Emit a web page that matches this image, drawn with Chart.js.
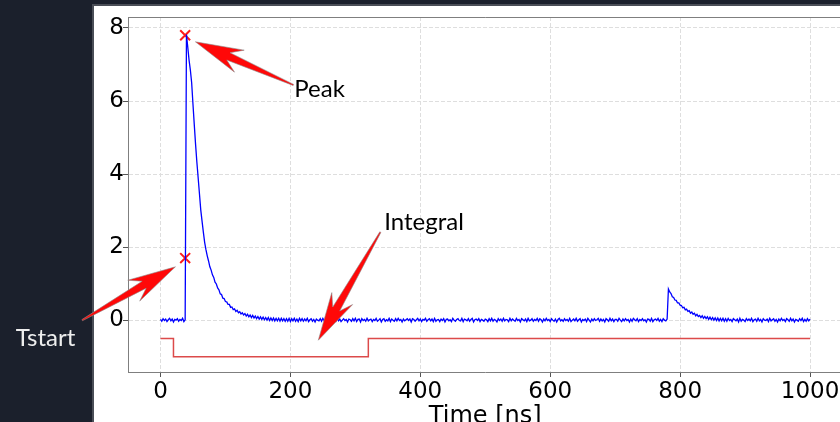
<!DOCTYPE html>
<html>
<head>
<meta charset="utf-8">
<script src="https://cdn.jsdelivr.net/npm/chart.js@4/dist/chart.umd.min.js"></script>
<style>
  html, body { margin: 0; padding: 0; background: #1b202c; overflow: hidden; }
  #wrap { position: absolute; left: 0; top: 0; width: 860px; height: 430px; }
</style>
</head>
<body>
<div id="wrap"><canvas id="waveform" width="860" height="430"></canvas></div>
<script>
// sampled waveform, one value every 2 ns
const sampleStep = 2;

// 0 .. 38 ns
const preTrigger = [0.02,-0.03,0.04,-0.01,0.03,-0.04,0.01,0.05,-0.02,0.03,-0.05,0.02,0.00,0.04,-0.03,0.02,-0.01,0.05,-0.04,0.01];

// 40 .. 220 ns
const mainPulse = [
  7.82,7.48,7.12,6.85,6.50,5.92,5.36,4.82,4.33,3.90,3.46,3.02,2.71,2.41,2.13,1.93,1.76,1.62,1.46,1.37,
  1.24,1.17,1.04,0.99,0.88,0.83,0.72,0.70,0.60,0.59,0.51,0.50,0.43,0.43,0.35,0.36,0.29,0.31,0.24,0.27,
  0.20,0.23,0.17,0.20,0.14,0.18,0.11,0.16,0.09,0.14,0.07,0.13,0.06,0.11,0.04,0.10,0.03,0.09,0.02,0.08,
  0.01,0.07,0.00,0.07,-0.01,0.06,-0.01,0.06,-0.02,0.05,-0.02,0.05,-0.03,0.05,-0.02,0.04,-0.03,0.04,-0.03,0.05,
  -0.04,0.04,-0.02,0.05,-0.03,0.03,-0.04,0.05,-0.02,0.04,-0.03
];

// 222 .. 780 ns
const baseline = [
  0.03,-0.02,0.05,-0.04,0.01,0.04,-0.03,0.02,-0.05,0.03,0.00,-0.02,0.04,-0.03,0.05,-0.01,0.02,-0.04,0.03,-0.02,
  0.04,-0.05,0.02,0.01,-0.03,0.05,-0.02,0.03,-0.04,0.00,0.04,-0.01,0.02,-0.05,0.03,0.01,-0.03,0.04,-0.02,0.05,
  -0.04,0.02,0.03,-0.05,0.04,-0.01,0.02,-0.03,0.05,-0.02,0.01,0.03,-0.04,0.02,-0.01,0.05,-0.03,0.00,0.04,-0.05,
  0.02,0.04,-0.03,0.01,-0.02,0.05,-0.04,0.03,0.00,-0.03,0.04,-0.02,0.05,-0.01,0.02,-0.05,0.03,-0.02,0.01,0.04,
  -0.01,0.03,-0.05,0.04,0.02,-0.03,0.01,0.05,-0.02,0.03,-0.04,0.02,0.00,0.05,-0.03,0.01,0.04,-0.02,0.03,-0.04,
  0.05,-0.03,0.01,0.02,-0.04,0.03,-0.01,0.04,-0.05,0.02,0.03,-0.02,0.01,-0.04,0.05,0.00,-0.03,0.02,0.04,-0.01,
  -0.02,0.05,-0.04,0.03,0.01,-0.02,0.04,-0.03,0.02,0.05,-0.05,0.01,0.03,-0.01,0.04,-0.04,0.02,0.00,-0.03,0.03,
  0.01,-0.04,0.04,-0.02,0.05,-0.03,0.02,0.00,-0.05,0.04,-0.01,0.03,-0.03,0.05,-0.02,0.02,0.01,-0.04,0.05,-0.02,
  0.03,0.00,-0.03,0.05,-0.01,0.02,-0.05,0.04,0.01,-0.02,0.03,-0.04,0.05,-0.02,0.00,0.04,-0.03,0.02,-0.01,0.05,
  -0.03,0.04,0.01,-0.05,0.03,-0.02,0.05,-0.01,0.02,-0.04,0.04,0.00,-0.03,0.03,-0.05,0.02,0.05,-0.02,0.01,-0.03,
  0.04,-0.01,0.02,-0.03,0.05,-0.04,0.00,0.03,-0.02,0.05,-0.03,0.01,0.04,-0.05,0.02,-0.01,0.03,-0.04,0.05,0.00,
  -0.05,0.03,-0.02,0.04,-0.01,0.01,0.05,-0.03,0.03,-0.02,0.02,-0.05,0.04,0.01,-0.03,0.05,-0.02,0.03,-0.04,0.02,
  0.02,-0.03,0.05,0.00,-0.04,0.03,-0.02,0.04,-0.01,0.02,-0.05,0.03,-0.03,0.05,0.01,-0.02,0.04,-0.04,0.02,-0.01,
  0.04,-0.02,0.01,-0.05,0.03,0.02,-0.03,0.05,-0.04,0.01,0.03,-0.01,0.05,-0.03,0.02,-0.04,0.04,0.00,-0.02,0.03
];

// 782 .. 870 ns
const afterPulse = [
  0.85,0.77,0.73,0.64,0.62,0.55,0.54,0.47,0.47,0.41,0.40,0.34,0.35,0.28,0.30,0.24,0.26,0.19,0.22,0.16,
  0.19,0.12,0.16,0.10,0.13,0.07,0.12,0.05,0.10,0.04,0.09,0.02,0.08,0.01,0.07,0.00,0.06,-0.01,0.06,-0.02,
  0.05,-0.02,0.05,-0.03,0.04
];

// 872 .. 1000 ns
const tailNoise = [
  -0.03,0.05,-0.01,0.02,-0.04,0.04,0.01,-0.02,0.03,-0.05,0.05,-0.03,0.02,0.00,-0.04,0.04,-0.01,0.03,-0.02,0.05,
  -0.04,0.01,0.03,-0.03,0.05,-0.02,0.02,-0.05,0.04,0.00,-0.01,0.03,-0.04,0.05,-0.02,0.01,0.04,-0.03,0.02,-0.05,
  0.03,-0.02,0.05,-0.01,0.02,-0.04,0.04,0.01,-0.03,0.05,-0.02,0.03,-0.05,0.02,0.00,-0.03,0.04,-0.01,0.05,-0.04,
  0.02,-0.03,0.04,-0.02,0.03
];

const signal = [...preTrigger, ...mainPulse, ...baseline, ...afterPulse, ...tailNoise];
const times = signal.map((_, i) => i * sampleStep);

// integration gate
const gateTimes = [0, 20, 20, 320, 320, 1000];
const gateLevels = [-0.5, -0.5, -1, -1, -0.5, -0.5];

// found points (x markers)
const markTimes = [38, 38];
const markValues = [7.8, 1.7];

const xTicks = [0, 200, 400, 600, 800, 1000];
const yTicks = [0, 2, 4, 6, 8];

// annotations: text position, arrow tail, arrow tip (data units)
const notes = [
  { text: 'Peak',     tx: 206,   ty: 6.11,  from: [204.6, 6.44], to: [53.8, 7.62], color: '#000' },
  { text: 'Integral', tx: 344.6, ty: 2.47,  from: [338.5, 2.41], to: [243, -0.55], color: '#000' },
  { text: 'Tstart',   tx: -223,  ty: -0.71, from: [-120.5, 0.0], to: [23, 1.46],   color: '#eeeeee' }
];

const panelPlugin = {
  id: 'panel',
  beforeDraw(chart) {
    const c = chart.ctx;
    c.save();
    c.fillStyle = '#1b202c';
    c.fillRect(0, 0, chart.width, chart.height);
    c.fillStyle = '#4a4e57';
    c.fillRect(92, 4, chart.width, chart.height);
    c.fillStyle = '#ffffff';
    c.fillRect(94, 6, chart.width, chart.height);
    c.restore();
  },
  afterDraw(chart) {
    const c = chart.ctx;
    const xs = chart.scales.x, ys = chart.scales.y;
    const a = chart.chartArea;
    c.save();
    c.strokeStyle = '#7f7f7f';
    c.lineWidth = 1;
    c.beginPath();
    c.moveTo(a.left, a.top + 0.5);
    c.lineTo(a.right, a.top + 0.5);
    c.stroke();

    notes.forEach(n => {
      const x0 = xs.getPixelForValue(n.from[0]), y0 = ys.getPixelForValue(n.from[1]);
      const x1 = xs.getPixelForValue(n.to[0]), y1 = ys.getPixelForValue(n.to[1]);
      const len = Math.hypot(x0 - x1, y0 - y1);
      const ux = (x0 - x1) / len, uy = (y0 - y1) / len;
      const nx = -uy, ny = ux;
      const L = 48, N = 36, hw = 12, tw = 4;
      const pts = [
        [x1, y1],
        [x1 + ux * L + nx * hw, y1 + uy * L + ny * hw],
        [x1 + ux * N + nx * tw, y1 + uy * N + ny * tw],
        [x0 + nx * 0.6, y0 + ny * 0.6],
        [x0 - nx * 0.6, y0 - ny * 0.6],
        [x1 + ux * N - nx * tw, y1 + uy * N - ny * tw],
        [x1 + ux * L - nx * hw, y1 + uy * L - ny * hw]
      ];
      c.beginPath();
      pts.forEach((p, i) => i ? c.lineTo(p[0], p[1]) : c.moveTo(p[0], p[1]));
      c.closePath();
      c.fillStyle = '#ff0808';
      c.fill();
      c.strokeStyle = 'rgba(140,140,140,0.6)';
      c.lineWidth = 1;
      c.stroke();

      c.font = '24px Lato';
      c.fillStyle = n.color;
      c.textAlign = 'left';
      c.textBaseline = 'alphabetic';
      c.fillText(n.text, xs.getPixelForValue(n.tx), ys.getPixelForValue(n.ty));
    });
    c.restore();
  }
};

new Chart(document.getElementById('waveform'), {
  type: 'line',
  data: {
    datasets: [
      {
        label: 'signal',
        data: times.map((t, i) => ({ x: t, y: signal[i] })),
        borderColor: '#0000ff',
        borderWidth: 1.3,
        pointRadius: 0,
        tension: 0
      },
      {
        label: 'gate',
        data: gateTimes.map((t, i) => ({ x: t, y: gateLevels[i] })),
        borderColor: '#dc4a4a',
        borderWidth: 1.5,
        pointRadius: 0,
        tension: 0
      },
      {
        label: 'marks',
        data: markTimes.map((t, i) => ({ x: t, y: markValues[i] })),
        showLine: false,
        pointStyle: 'crossRot',
        pointRadius: 7,
        borderColor: '#ff1a1a',
        borderWidth: 2
      }
    ]
  },
  options: {
    responsive: false,
    animation: false,
    events: [],
    layout: { padding: { left: 0, top: 17, right: 17.5, bottom: 0 } },
    plugins: { legend: { display: false }, tooltip: { enabled: false } },
    scales: {
      x: {
        type: 'linear',
        min: -50,
        max: 1050,
        afterFit: s => { s.height = 58; },
        afterBuildTicks: s => { s.ticks = xTicks.map(v => ({ value: v })); },
        grid: { color: '#dedede', tickColor: '#555', tickLength: 5 },
        border: { color: '#7f7f7f', dash: [4, 2] },
        ticks: { color: '#000', padding: 1, maxRotation: 0, callback: v => String(v), font: { family: 'DejaVu Sans', size: 23 } },
        title: { display: true, text: 'Time [ns]', color: '#000', padding: { top: 0, bottom: -1 }, font: { family: 'DejaVu Sans', size: 24 } }
      },
      y: {
        type: 'linear',
        min: -1.42,
        max: 8.3,
        afterFit: s => { s.width = 128; },
        afterBuildTicks: s => { s.ticks = yTicks.map(v => ({ value: v })); },
        grid: { color: '#dedede', tickColor: '#555', tickLength: 5 },
        border: { color: '#7f7f7f', dash: [4, 2] },
        ticks: { color: '#000', padding: -1, callback: v => String(v), font: { family: 'DejaVu Sans', size: 23 } }
      }
    }
  },
  plugins: [panelPlugin]
});
</script>
</body>
</html>
